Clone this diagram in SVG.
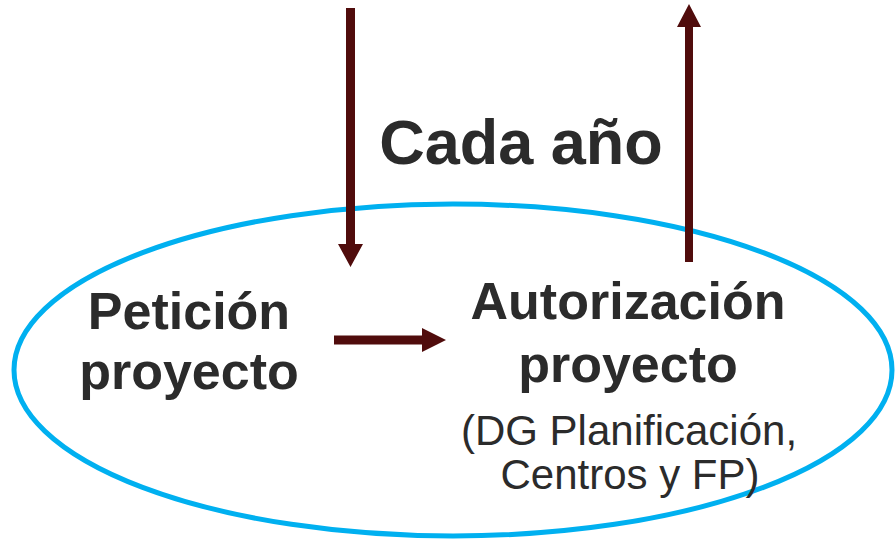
<svg xmlns="http://www.w3.org/2000/svg" width="896" height="542" viewBox="0 0 896 542">
<style>
.b{font-family:"Liberation Sans",Arial,sans-serif;font-weight:bold;fill:#2b2b2b;text-anchor:middle}
.r{font-family:"Liberation Sans",Arial,sans-serif;fill:#2b2b2b;text-anchor:middle}
.ar{fill:#500c0c}
</style>
<rect width="896" height="542" fill="#fff"/>
<g id="ciclo">
<ellipse cx="453" cy="370" rx="439" ry="166" fill="none" stroke="#00b0f0" stroke-width="5"/>
</g>
<g id="cada-ano">
<text class="b" x="521" y="164" font-size="63">Cada año</text>
</g>
<g id="peticion">
<text class="b" x="189" y="329" font-size="52">Petición</text>
<text class="b" x="189" y="389" font-size="52">proyecto</text>
</g>
<g id="autorizacion">
<text class="b" x="628" y="319" font-size="52">Autorización</text>
<text class="b" x="628" y="382" font-size="52">proyecto</text>
<text class="r" x="629" y="445" font-size="42">(DG Planificación,</text>
<text class="r" x="630" y="489" font-size="42">Centros y FP)</text>
</g>
<g id="connectors">
<path class="ar" d="M346 8 H355 V244 H363 L350.5 267 L338 244 H346 Z"/>
<path class="ar" d="M334 335.5 H422 V328 L446 340 L422 352 V344.5 H334 Z"/>
<path class="ar" d="M685 262 V27 H677 L689 4 L701 27 H693 V262 Z"/>
</g>
</svg>
